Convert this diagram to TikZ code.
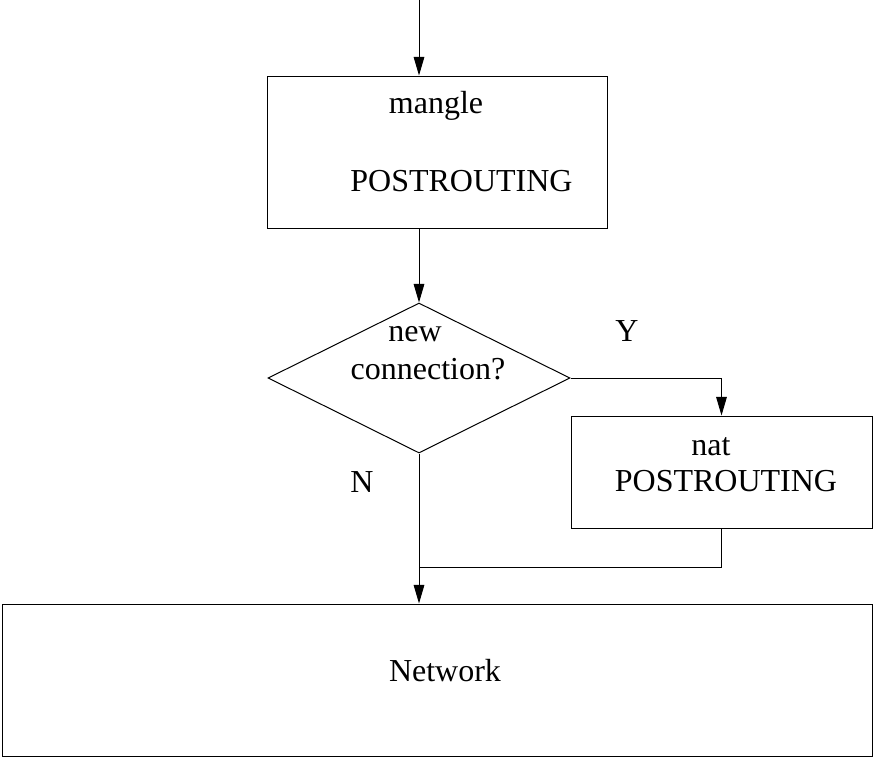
\documentclass[tikz,border=0pt]{standalone}
\usepackage{fontspec}
\setmainfont{Liberation Serif}
\usetikzlibrary{arrows.meta,shapes.geometric}

\tikzset{every picture/.style={line width=0.75pt}}
\tikzset{
  chainbox/.style={draw, rectangle, inner sep=0pt},
  testbox/.style={draw, diamond, inner sep=0pt, minimum width=226.5pt, minimum height=112.5pt},
  flow/.style={-{Triangle[length=14pt,width=8pt]}},
  label/.style={anchor=base, inner sep=0.75pt, font=\fontsize{24}{28}\selectfont}
}

\begin{document}
\begin{tikzpicture}[x=0.75pt,y=0.75pt,yscale=-1,xscale=1]
\useasboundingbox (0,0) rectangle (873,758);

%Shape: Rectangle mangle
\node [chainbox, minimum width=255pt, minimum height=114pt] (mangle) at (437,152) {};
%Shape: Diamond
\node [testbox] (newconn) at (419,378) {};
%Shape: Rectangle nat
\node [chainbox, minimum width=225.75pt, minimum height=84pt] (nat) at (721.5,472) {};
%Shape: Rectangle network
\node [chainbox, minimum width=652.5pt, minimum height=114pt] (network) at (437,680) {};

\coordinate (in) at (419,0);
\coordinate (merge) at (419,567);

%Connectors
\draw [flow] (in) -- (in |- mangle.north);
\draw [flow] (newconn.north |- mangle.south) -- (newconn.north);
\draw [flow] (newconn.east) -| (nat.north);
\draw [flow] (newconn.south) -- (newconn.south |- network.north);
\draw (nat.south) |- (merge);

% Text Node
\node [label] (tmangle) at (436,113) {mangle};
% Text Node
\node [label] (tpost1) at (461.5,191) {POSTROUTING};
% Text Node
\node [label] (tnew) at (415,341) {new};
% Text Node
\node [label] (tconn) at (428,379) {connection?};
% Text Node
\node [label] (tyes) at (627,341) {Y};
% Text Node
\node [label] (tno) at (362,492) {N};
% Text Node
\node [label] (tnat) at (711,455) {nat};
% Text Node
\node [label] (tpost2) at (726,491) {POSTROUTING};
% Text Node
\node [label] (tnet) at (445,681) {Network};

\end{tikzpicture}
\end{document}
